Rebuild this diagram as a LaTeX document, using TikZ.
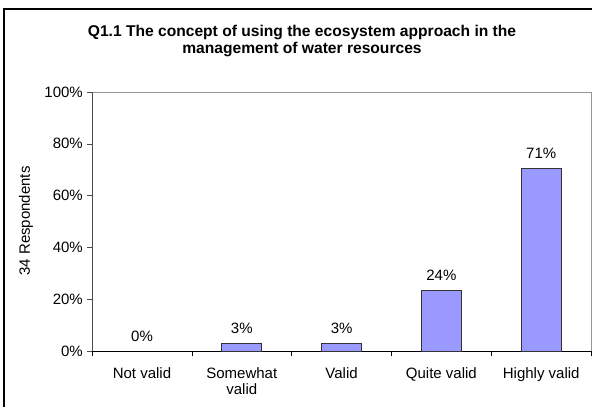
\documentclass[tikz,border=0pt]{standalone}
\usepackage{fontspec}
\setmainfont{Liberation Sans}
\definecolor{barblue}{RGB}{153,153,255}
\definecolor{framegray}{RGB}{150,150,150}
\tikzset{
  lbl/.style={font=\fontsize{15}{16}\selectfont, inner sep=0pt},
  bar/.style={draw=black!80, fill=barblue, line width=0.9pt},
}
\begin{document}
\begin{tikzpicture}[x=1pt, y=-1pt]
  \useasboundingbox (0,0) rectangle (592,407);
  % frame of the chart
  \draw[line width=1.6pt] (4,410) -- (4,9) -- (595,9);
  \node[font=\bfseries\fontsize{15.6}{17}\selectfont, align=center, inner sep=0pt, anchor=north]
    (title) at (302,25) {Q1.1 The concept of using the ecosystem approach in the\\management of water resources};
  % plot area
  \draw[framegray] (92,92) -- (591,92) -- (591,351);
  \draw[black!70] (92,92) -- (92,351);
  \draw[black] (92,351) -- (595,351);
  \foreach \k in {0,...,5} {
    \draw[black!70] (87,351-51.8*\k) -- (92,351-51.8*\k);
    \node[lbl, anchor=east] (ylab\k) at (83,351-51.8*\k) {\the\numexpr 20*\k\relax\%};
  }
  \foreach \k in {0,...,5}
    \draw (92+99.8*\k,351) -- (92+99.8*\k,356);
  \node[lbl, rotate=90] (ytitle) at (26,221) {34 Respondents};
  % bars
  \foreach \i/\n/\p/\name in {0/0/0/{Not valid}, 1/1/3/{Somewhat\\valid}, 2/1/3/{Valid},
      3/8/24/{Quite valid}, 4/24/71/{Highly valid}} {
    \ifnum\n>0
      \draw[bar] (122+99.8*\i,351) rectangle (162+99.8*\i,351-259*\n/34);
    \fi
    \node[lbl, anchor=base] (val\i) at (142+99.8*\i,341-259*\n/34) {\p\%};
    \node[lbl, anchor=north, align=center] (cat\i) at (142+99.8*\i,367) {\name};
  }
\end{tikzpicture}
\end{document}
